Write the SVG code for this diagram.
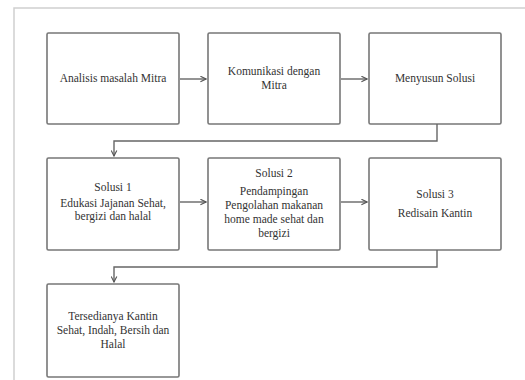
<svg xmlns="http://www.w3.org/2000/svg" width="525" height="380" viewBox="0 0 525 380">
<defs>
<marker id="arr" viewBox="0 0 10 10" refX="9" refY="5" markerWidth="7" markerHeight="7" markerUnits="userSpaceOnUse" orient="auto">
<path d="M1,1 L9,5 L1,9" fill="none" stroke="#555" stroke-width="1.6"/>
</marker>
<style>
.box{fill:#fff;stroke:#777;stroke-width:1.6}
.t{font-size:11.5px;fill:#333;text-anchor:middle}
.c{fill:none;stroke:#666;stroke-width:1.4}
</style>
</defs>
<rect width="525" height="380" fill="#fff"/>
<path d="M14,380 V8 H525" fill="none" stroke="#d0d0d0" stroke-width="1.5"/>
<g font-family="'Liberation Serif', 'DejaVu Serif', serif">
<g id="n1"><rect class="box" x="47" y="33" width="132" height="91" rx="1.5"/><text class="t" x="113" y="82">Analisis masalah Mitra</text></g>
<g id="n2"><rect class="box" x="208" y="33" width="132" height="91" rx="1.5"/><text class="t" x="274" y="75">Komunikasi dengan</text><text class="t" x="274" y="89">Mitra</text></g>
<g id="n3"><rect class="box" x="369" y="33" width="132" height="91" rx="1.5"/><text class="t" x="435" y="82">Menyusun Solusi</text></g>
<g id="n4"><rect class="box" x="47" y="158" width="132" height="92" rx="1.5"/><text class="t" x="113" y="191">Solusi 1</text><text class="t" x="113" y="207">Edukasi Jajanan Sehat,</text><text class="t" x="113" y="220">bergizi dan halal</text></g>
<g id="n5"><rect class="box" x="208" y="158" width="132" height="92" rx="1.5"/><text class="t" x="274" y="177">Solusi 2</text><text class="t" x="274" y="195">Pendampingan</text><text class="t" x="274" y="209">Pengolahan makanan</text><text class="t" x="274" y="223">home made sehat dan</text><text class="t" x="274" y="237">bergizi</text></g>
<g id="n6"><rect class="box" x="369" y="158" width="132" height="92" rx="1.5"/><text class="t" x="435" y="198">Solusi 3</text><text class="t" x="435" y="217">Redisain Kantin</text></g>
<g id="n7"><rect class="box" x="47" y="284" width="132" height="93" rx="1.5"/><text class="t" x="113" y="320">Tersedianya Kantin</text><text class="t" x="113" y="334">Sehat, Indah, Bersih dan</text><text class="t" x="113" y="348">Halal</text></g>
</g>
<g id="connectors">
<path class="c" d="M180,79 H206" marker-end="url(#arr)"/>
<path class="c" d="M341,79 H367" marker-end="url(#arr)"/>
<path class="c" d="M437,124 V141 H114 V156" marker-end="url(#arr)"/>
<path class="c" d="M180,202 H206" marker-end="url(#arr)"/>
<path class="c" d="M341,202 H367" marker-end="url(#arr)"/>
<path class="c" d="M437,250 V267 H114 V282" marker-end="url(#arr)"/>
</g>
</svg>
